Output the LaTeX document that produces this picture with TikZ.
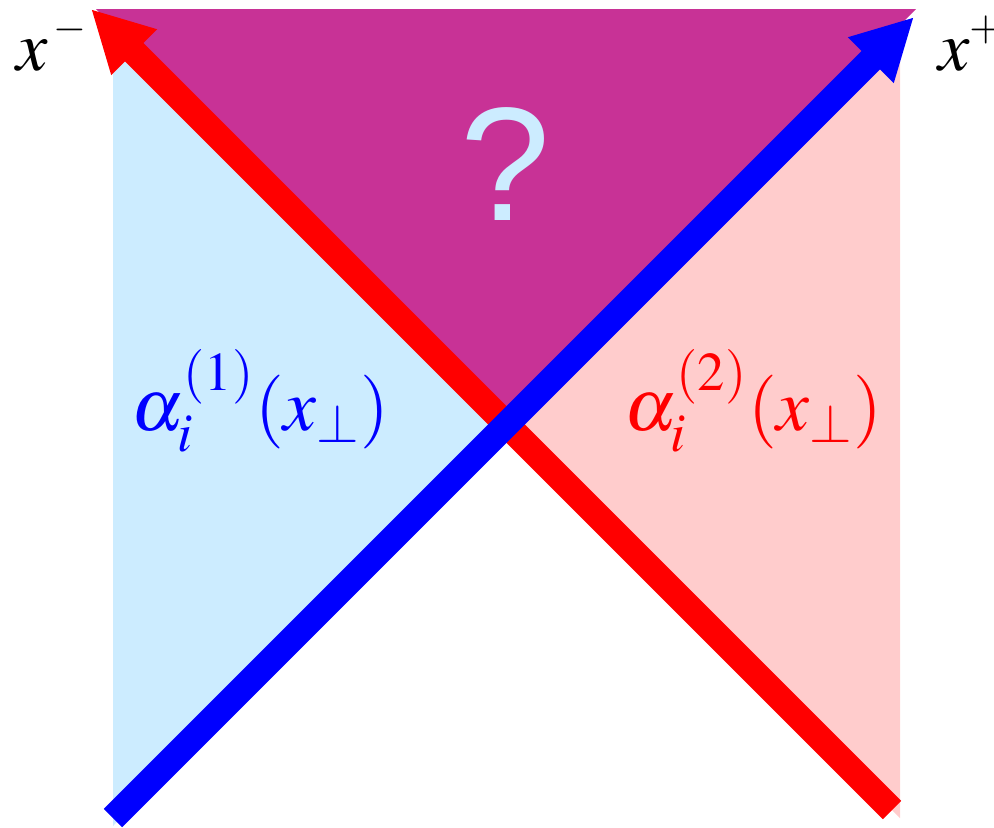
\documentclass[tikz,border=0pt]{standalone}
\usepackage{mathptmx}
\usepackage{fontspec}
\setsansfont{Liberation Sans}
\usetikzlibrary{arrows.meta}
\definecolor{conepurple}{RGB}{200,50,150}
\definecolor{coneblue}{RGB}{204,236,255}
\definecolor{conepink}{RGB}{255,204,204}

\begin{document}
\begin{tikzpicture}[x=0.01cm,y=-0.01cm,
  every node/.style={inner sep=0pt,outer sep=0pt},
  axis/.style={line width=0.26cm,-{Triangle[length=0.61cm,width=0.6cm]}},
  lbl/.style={font=\fontsize{21}{25}\selectfont,anchor=base west},
  axislbl/.style={font=\fontsize{20}{24}\selectfont,anchor=base west}]
\useasboundingbox (0,0) rectangle (994,827);
\coordinate (O) at (506.5,424.5);
\coordinate (redstart) at (892,810);
\coordinate (redtip) at (91,9);
\coordinate (bluestart) at (113,818);
\coordinate (bluetip) at (914,17);
\fill[coneblue] (113,31) -- (O) -- (113,826) -- cycle;
\fill[conepink] (900,31) -- (O) -- (900,818) -- cycle;
\fill[conepurple] (96,9) -- (916,9) -- (O) -- cycle;
\draw[axis,red] (redstart) -- (redtip);
\draw[axis,blue] (bluestart) -- (bluetip);
\node[axislbl] (xminus) at (16,70) {$x^{\,\raisebox{1.2pt}{$\scriptscriptstyle -$}}$};
\node[axislbl] (xplus) at (938,70) {$x^{\raisebox{1.2pt}{$\scriptscriptstyle +$}}$};
\node[font=\sffamily\fontsize{46}{50}\selectfont,text=coneblue,anchor=base] (question) at (505,220) {?};
\node[lbl,text=blue] (alphaone) at (131,430) {$\alpha_i^{(1)}(x_\perp)$};
\node[lbl,text=red] (alphatwo) at (624,430) {$\alpha_i^{(2)}(x_\perp)$};
\end{tikzpicture}
\end{document}
